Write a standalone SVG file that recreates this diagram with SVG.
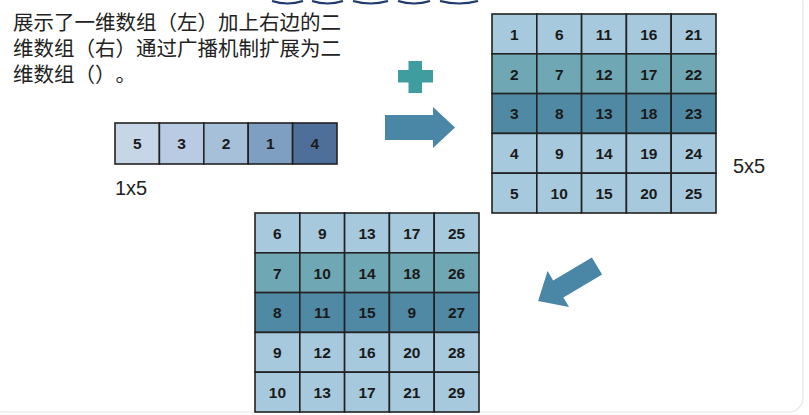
<svg xmlns="http://www.w3.org/2000/svg" width="809" height="415" viewBox="0 0 809 415">
<style>
.t{font-family:"Noto Sans CJK SC","Noto Sans",sans-serif;font-size:20.5px;fill:#222;text-spacing-trim:space-all}
.lbl{font-family:"Liberation Sans",Arial,sans-serif;font-size:20px;fill:#222}
.n{font-family:"Liberation Sans",Arial,sans-serif;font-size:15.5px;font-weight:bold;fill:#1a1a1a;text-anchor:middle}
.c{stroke:#222;stroke-width:1.6}
.lt{fill:#a7c9dd}.md{fill:#6fa8b4}.dk{fill:#5089a4}
.arc{fill:none;stroke:#1f3a6e;stroke-width:2.2}
</style>
<rect x="0" y="0" width="809" height="415" fill="#ffffff"/>
<rect x="-10" y="-10" width="813" height="422" rx="14" fill="none" stroke="#e6e6e6" stroke-width="1.2"/>
<g id="decor">
<path class="arc" d="M272,1 Q287.5,6 303,1"/>
<path class="arc" d="M312,1 Q327.5,6 343,1"/>
<path class="arc" d="M353,1 Q370.5,6 388,1"/>
<path class="arc" d="M398,1 Q414,6 430,1"/>
<path class="arc" d="M440,1 Q459,6 478,1"/>
</g>
<g id="caption">
<text class="t" x="13" y="30">展示了一维数组（左）加上右边的二</text>
<text class="t" x="13" y="56">维数组（右）通过广播机制扩展为二</text>
<text class="t" x="13" y="82">维数组（）。</text>
</g>
<g id="array1x5">
<rect class="c" x="115" y="123" width="44.4" height="41" fill="#c6d6e7"/>
<rect class="c" x="159.4" y="123" width="44.4" height="41" fill="#b8cbe3"/>
<rect class="c" x="203.8" y="123" width="44.4" height="41" fill="#a7c0da"/>
<rect class="c" x="248.2" y="123" width="44.4" height="41" fill="#7f9fc2"/>
<rect class="c" x="292.6" y="123" width="44.4" height="41" fill="#4f6f9b"/>
<text class="n" x="137.2" y="149">5</text>
<text class="n" x="181.6" y="149">3</text>
<text class="n" x="226" y="149">2</text>
<text class="n" x="270.4" y="149">1</text>
<text class="n" x="314.8" y="149">4</text>
<text class="lbl" x="115" y="195">1x5</text>
</g>
<g id="plus">
<rect x="398" y="70" width="35" height="12.5" fill="#3f9c9f"/>
<rect x="408.5" y="61" width="13.5" height="32" fill="#3f9c9f"/>
</g>
<g id="connectors">
<polygon points="385,115 433,115 433,107 455,127.5 433,148 433,140 385,140" fill="#4a86a6"/>
<polygon transform="translate(597,266) rotate(149.3)" points="0,-10 45,-10 45,-21 68.5,0 45,21 45,10 0,10" fill="#4a86a6"/>
</g>
<g id="array5x5">
<g transform="translate(492,14)">
<rect class="c lt" x="0" y="0" width="44.8" height="39.8"/><rect class="c lt" x="44.8" y="0" width="44.8" height="39.8"/><rect class="c lt" x="89.6" y="0" width="44.8" height="39.8"/><rect class="c lt" x="134.4" y="0" width="44.8" height="39.8"/><rect class="c lt" x="179.2" y="0" width="44.8" height="39.8"/>
<rect class="c md" x="0" y="39.8" width="44.8" height="39.8"/><rect class="c md" x="44.8" y="39.8" width="44.8" height="39.8"/><rect class="c md" x="89.6" y="39.8" width="44.8" height="39.8"/><rect class="c md" x="134.4" y="39.8" width="44.8" height="39.8"/><rect class="c md" x="179.2" y="39.8" width="44.8" height="39.8"/>
<rect class="c dk" x="0" y="79.6" width="44.8" height="39.8"/><rect class="c dk" x="44.8" y="79.6" width="44.8" height="39.8"/><rect class="c dk" x="89.6" y="79.6" width="44.8" height="39.8"/><rect class="c dk" x="134.4" y="79.6" width="44.8" height="39.8"/><rect class="c dk" x="179.2" y="79.6" width="44.8" height="39.8"/>
<rect class="c lt" x="0" y="119.4" width="44.8" height="39.8"/><rect class="c lt" x="44.8" y="119.4" width="44.8" height="39.8"/><rect class="c lt" x="89.6" y="119.4" width="44.8" height="39.8"/><rect class="c lt" x="134.4" y="119.4" width="44.8" height="39.8"/><rect class="c lt" x="179.2" y="119.4" width="44.8" height="39.8"/>
<rect class="c lt" x="0" y="159.2" width="44.8" height="39.8"/><rect class="c lt" x="44.8" y="159.2" width="44.8" height="39.8"/><rect class="c lt" x="89.6" y="159.2" width="44.8" height="39.8"/><rect class="c lt" x="134.4" y="159.2" width="44.8" height="39.8"/><rect class="c lt" x="179.2" y="159.2" width="44.8" height="39.8"/>
<text class="n" x="22.4" y="25.5">1</text><text class="n" x="67.2" y="25.5">6</text><text class="n" x="112" y="25.5">11</text><text class="n" x="156.8" y="25.5">16</text><text class="n" x="201.6" y="25.5">21</text>
<text class="n" x="22.4" y="65.5">2</text><text class="n" x="67.2" y="65.5">7</text><text class="n" x="112" y="65.5">12</text><text class="n" x="156.8" y="65.5">17</text><text class="n" x="201.6" y="65.5">22</text>
<text class="n" x="22.4" y="105">3</text><text class="n" x="67.2" y="105">8</text><text class="n" x="112" y="105">13</text><text class="n" x="156.8" y="105">18</text><text class="n" x="201.6" y="105">23</text>
<text class="n" x="22.4" y="145">4</text><text class="n" x="67.2" y="145">9</text><text class="n" x="112" y="145">14</text><text class="n" x="156.8" y="145">19</text><text class="n" x="201.6" y="145">24</text>
<text class="n" x="22.4" y="184.5">5</text><text class="n" x="67.2" y="184.5">10</text><text class="n" x="112" y="184.5">15</text><text class="n" x="156.8" y="184.5">20</text><text class="n" x="201.6" y="184.5">25</text>
</g>
<text class="lbl" x="733" y="173">5x5</text>
</g>
<g id="result5x5">
<g transform="translate(255,213)">
<rect class="c lt" x="0" y="0" width="44.8" height="39.8"/><rect class="c lt" x="44.8" y="0" width="44.8" height="39.8"/><rect class="c lt" x="89.6" y="0" width="44.8" height="39.8"/><rect class="c lt" x="134.4" y="0" width="44.8" height="39.8"/><rect class="c lt" x="179.2" y="0" width="44.8" height="39.8"/>
<rect class="c md" x="0" y="39.8" width="44.8" height="39.8"/><rect class="c md" x="44.8" y="39.8" width="44.8" height="39.8"/><rect class="c md" x="89.6" y="39.8" width="44.8" height="39.8"/><rect class="c md" x="134.4" y="39.8" width="44.8" height="39.8"/><rect class="c md" x="179.2" y="39.8" width="44.8" height="39.8"/>
<rect class="c dk" x="0" y="79.6" width="44.8" height="39.8"/><rect class="c dk" x="44.8" y="79.6" width="44.8" height="39.8"/><rect class="c dk" x="89.6" y="79.6" width="44.8" height="39.8"/><rect class="c dk" x="134.4" y="79.6" width="44.8" height="39.8"/><rect class="c dk" x="179.2" y="79.6" width="44.8" height="39.8"/>
<rect class="c lt" x="0" y="119.4" width="44.8" height="39.8"/><rect class="c lt" x="44.8" y="119.4" width="44.8" height="39.8"/><rect class="c lt" x="89.6" y="119.4" width="44.8" height="39.8"/><rect class="c lt" x="134.4" y="119.4" width="44.8" height="39.8"/><rect class="c lt" x="179.2" y="119.4" width="44.8" height="39.8"/>
<rect class="c lt" x="0" y="159.2" width="44.8" height="39.8"/><rect class="c lt" x="44.8" y="159.2" width="44.8" height="39.8"/><rect class="c lt" x="89.6" y="159.2" width="44.8" height="39.8"/><rect class="c lt" x="134.4" y="159.2" width="44.8" height="39.8"/><rect class="c lt" x="179.2" y="159.2" width="44.8" height="39.8"/>
<text class="n" x="22.4" y="25.5">6</text><text class="n" x="67.2" y="25.5">9</text><text class="n" x="112" y="25.5">13</text><text class="n" x="156.8" y="25.5">17</text><text class="n" x="201.6" y="25.5">25</text>
<text class="n" x="22.4" y="65.5">7</text><text class="n" x="67.2" y="65.5">10</text><text class="n" x="112" y="65.5">14</text><text class="n" x="156.8" y="65.5">18</text><text class="n" x="201.6" y="65.5">26</text>
<text class="n" x="22.4" y="105">8</text><text class="n" x="67.2" y="105">11</text><text class="n" x="112" y="105">15</text><text class="n" x="156.8" y="105">9</text><text class="n" x="201.6" y="105">27</text>
<text class="n" x="22.4" y="145">9</text><text class="n" x="67.2" y="145">12</text><text class="n" x="112" y="145">16</text><text class="n" x="156.8" y="145">20</text><text class="n" x="201.6" y="145">28</text>
<text class="n" x="22.4" y="184.5">10</text><text class="n" x="67.2" y="184.5">13</text><text class="n" x="112" y="184.5">17</text><text class="n" x="156.8" y="184.5">21</text><text class="n" x="201.6" y="184.5">29</text>
</g>
</g>
</svg>
